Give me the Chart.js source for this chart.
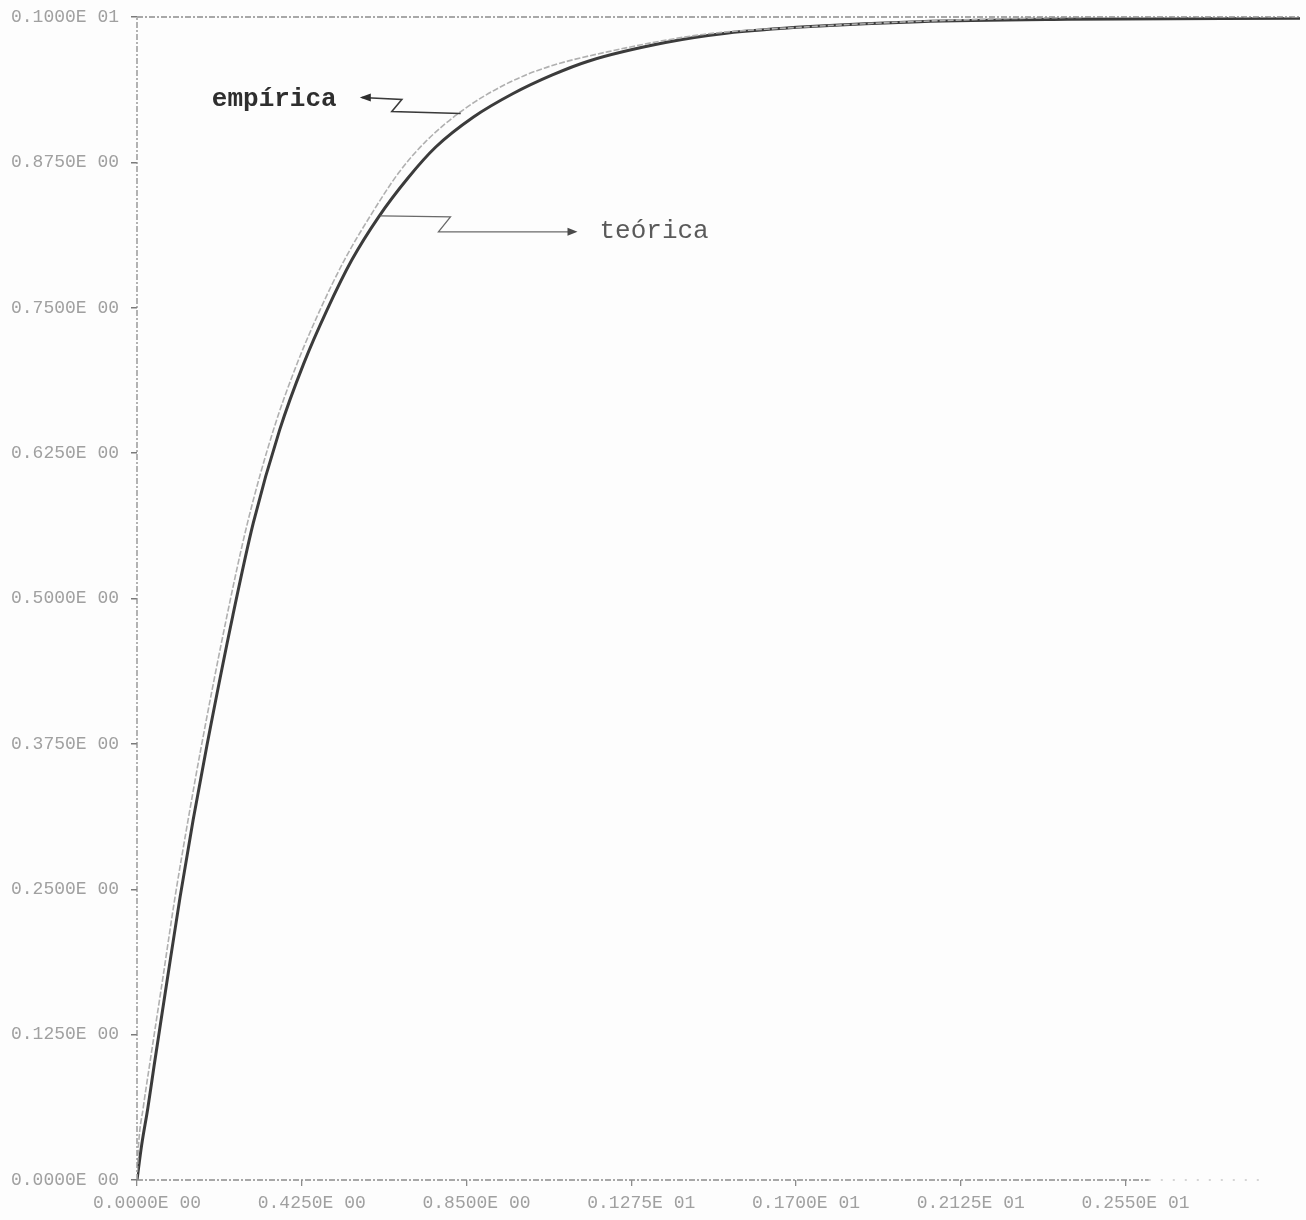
<!DOCTYPE html>
<html>
<head>
<meta charset="utf-8">
<title>Distribución empírica y teórica</title>
<script src="https://cdn.jsdelivr.net/npm/chart.js@4/dist/chart.umd.min.js"></script>
<style>
  html, body { margin: 0; padding: 0; background: #fdfdfd; }
  #wrap { width: 1306px; height: 1220px; position: relative; }
</style>
</head>
<body>
<div id="wrap"><canvas id="cdf"></canvas></div>
<script>
// Theoretical distribution function (solid dark curve)
const teoricaX = [0, 0.012, 0.028, 0.044, 0.060, 0.077, 0.111, 0.145, 0.180, 0.247, 0.300, 0.368, 0.430, 0.490, 0.554, 0.623, 0.700, 0.770, 0.868, 0.969, 1.070, 1.164, 1.363, 1.520, 1.749, 2.017, 2.400, 3.000];
const teoricaY = [0, 0.030, 0.062, 0.098, 0.133, 0.170, 0.243, 0.310, 0.373, 0.485, 0.565, 0.645, 0.702, 0.748, 0.791, 0.828, 0.862, 0.888, 0.914, 0.934, 0.950, 0.962, 0.978, 0.986, 0.992, 0.996, 0.998, 0.999];

// Empirical distribution function (faint curve)
const empiricaX = [0, 0.004, 0.016, 0.032, 0.048, 0.065, 0.098, 0.132, 0.166, 0.232, 0.285, 0.352, 0.413, 0.472, 0.535, 0.600, 0.675, 0.745, 0.845, 0.950, 1.050, 1.213, 1.460, 1.700, 2.000, 2.300, 2.600, 3.000];
const empiricaY = [0, 0.030, 0.062, 0.098, 0.133, 0.170, 0.243, 0.310, 0.373, 0.485, 0.565, 0.645, 0.702, 0.748, 0.791, 0.828, 0.866, 0.893, 0.921, 0.942, 0.956, 0.970, 0.985, 0.991, 0.996, 0.999, 1.000, 1.000];

// Axis ticks and their printed labels
const xTickValues = [0, 0.425, 0.850, 1.275, 1.700, 2.125, 2.550];
const xTickLabels = ['0.0000E 00', '0.4250E 00', '0.8500E 00', '0.1275E 01', '0.1700E 01', '0.2125E 01', '0.2550E 01'];
const yTickValues = [0, 0.125, 0.250, 0.375, 0.500, 0.625, 0.750, 0.875, 1.000];
const yTickLabels = ['0.0000E 00', '0.1250E 00', '0.2500E 00', '0.3750E 00', '0.5000E 00', '0.6250E 00', '0.7500E 00', '0.8750E 00', '0.1000E 01'];

// Callout anchors, in data units
const empiricaNote = { text: 'empírica', x: 0.193, y: 0.929 };
const teoricaNote  = { text: 'teórica',  x: 1.193, y: 0.816 };

const toPoints = (xs, ys) => xs.map((x, i) => ({ x: x, y: ys[i] }));

const frameAndNotes = {
  id: 'frameAndNotes',
  afterDatasetsDraw(chart) {
    const { ctx, chartArea: a, scales: { x, y } } = chart;
    ctx.save();
    // dotted printer frame: left, top and bottom edges
    ctx.strokeStyle = '#8c8c8c';
    ctx.lineWidth = 1.3;
    ctx.setLineDash([6, 2, 2, 2]);
    ctx.beginPath();
    ctx.moveTo(a.left, a.bottom); ctx.lineTo(a.left, a.top);
    ctx.moveTo(a.left, a.top); ctx.lineTo(a.right, a.top);
    ctx.stroke();
    ctx.beginPath();
    ctx.moveTo(a.left, a.bottom); ctx.lineTo(x.getPixelForValue(2.61), a.bottom);
    ctx.stroke();
    ctx.strokeStyle = '#c8c8c8';
    ctx.setLineDash([2, 10]);
    ctx.beginPath();
    ctx.moveTo(x.getPixelForValue(2.61), a.bottom); ctx.lineTo(a.right - 40, a.bottom);
    ctx.stroke();
    ctx.setLineDash([]);

    // "empírica" callout
    const ex = x.getPixelForValue(empiricaNote.x), ey = y.getPixelForValue(empiricaNote.y);
    ctx.fillStyle = '#2e2e2e';
    ctx.font = 'bold 26px "Liberation Mono", "DejaVu Sans Mono", monospace';
    ctx.textBaseline = 'middle';
    ctx.fillText(empiricaNote.text, ex, ey);
    const ax = ex + 150, ay = ey - 2;
    ctx.strokeStyle = '#3a3a3a';
    ctx.lineWidth = 1.6;
    ctx.beginPath();
    ctx.moveTo(ax, ay);
    ctx.lineTo(ax + 40, ay + 2);
    ctx.lineTo(ax + 30, ay + 14);
    ctx.lineTo(x.getPixelForValue(0.835), ay + 16);
    ctx.stroke();
    ctx.fillStyle = '#2e2e2e';
    ctx.beginPath();
    ctx.moveTo(ax - 2, ay);
    ctx.lineTo(ax + 9, ay - 4);
    ctx.lineTo(ax + 9, ay + 4);
    ctx.closePath();
    ctx.fill();

    // "teórica" callout
    const tx = x.getPixelForValue(teoricaNote.x), ty = y.getPixelForValue(teoricaNote.y);
    ctx.fillStyle = '#5a5a5a';
    ctx.font = '26px "Liberation Mono", "DejaVu Sans Mono", monospace';
    ctx.fillText(teoricaNote.text, tx, ty);
    const sx = x.getPixelForValue(0.628), sy = y.getPixelForValue(0.829);
    ctx.strokeStyle = '#6a6a6a';
    ctx.lineWidth = 1.3;
    ctx.beginPath();
    ctx.moveTo(sx, sy);
    ctx.lineTo(sx + 70, sy + 1);
    ctx.lineTo(sx + 58, sy + 16);
    ctx.lineTo(tx - 30, sy + 16);
    ctx.stroke();
    ctx.fillStyle = '#4a4a4a';
    ctx.beginPath();
    ctx.moveTo(tx - 22, sy + 16);
    ctx.lineTo(tx - 32, sy + 12);
    ctx.lineTo(tx - 32, sy + 20);
    ctx.closePath();
    ctx.fill();
    ctx.restore();
  }
};

const monoTicks = { family: '"Liberation Mono", "DejaVu Sans Mono", monospace', size: 18 };

new Chart(document.getElementById('cdf'), {
  type: 'line',
  data: {
    datasets: [
      {
        label: 'empírica',
        data: toPoints(empiricaX, empiricaY),
        borderColor: '#b0b0b0',
        borderWidth: 1.6,
        borderDash: [6, 2],
        pointRadius: 0,
        cubicInterpolationMode: 'monotone',
        fill: false
      },
      {
        label: 'teórica',
        data: toPoints(teoricaX, teoricaY),
        borderColor: '#3b3b3b',
        borderWidth: 3,
        pointRadius: 0,
        cubicInterpolationMode: 'monotone',
        fill: false
      }
    ]
  },
  options: {
    responsive: true,
    maintainAspectRatio: false,
    animation: false,
    layout: { padding: { top: 17, right: 6, left: 0, bottom: 0 } },
    plugins: { legend: { display: false }, tooltip: { enabled: false } },
    scales: {
      x: {
        type: 'linear',
        min: 0,
        max: 3.0,
        border: { display: false },
        grid: { drawOnChartArea: false, drawTicks: true, tickLength: 6, color: '#8c8c8c', lineWidth: 1.3 },
        afterBuildTicks(scale) { scale.ticks = xTickValues.map(v => ({ value: v })); },
        afterFit(scale) { scale.height = 40; scale.paddingLeft = 0; scale.paddingRight = 0; },
        ticks: {
          autoSkip: false,
          maxRotation: 0,
          padding: 6,
          labelOffset: 10,
          color: '#a0a0a0',
          font: monoTicks,
          callback: (v) => { const i = xTickValues.indexOf(v); return i >= 0 ? xTickLabels[i] : ''; }
        }
      },
      y: {
        type: 'linear',
        min: 0,
        max: 1.0,
        border: { display: false },
        grid: { drawOnChartArea: false, drawTicks: true, tickLength: 6, color: '#7a7a7a', lineWidth: 1.5 },
        afterBuildTicks(scale) { scale.ticks = yTickValues.map(v => ({ value: v })); },
        afterFit(scale) { scale.width = 137; scale.paddingTop = 0; scale.paddingBottom = 0; },
        ticks: {
          autoSkip: false,
          padding: 12,
          color: '#a0a0a0',
          font: monoTicks,
          callback: (v) => { const i = yTickValues.indexOf(v); return i >= 0 ? yTickLabels[i] : ''; }
        }
      }
    }
  },
  plugins: [frameAndNotes]
});
</script>
</body>
</html>
